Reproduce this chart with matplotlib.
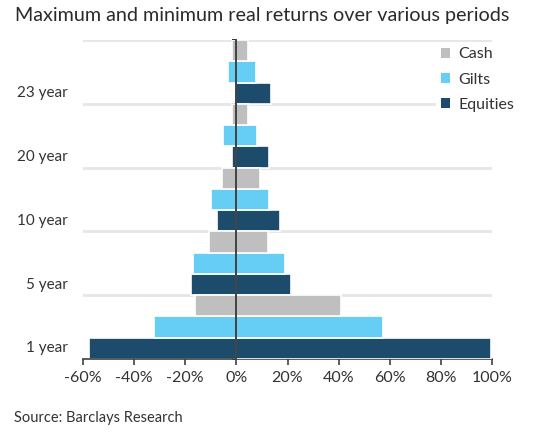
import matplotlib
matplotlib.use("Agg")
import matplotlib.pyplot as plt
import matplotlib.transforms as mtransforms
from matplotlib.patches import Patch
import numpy as np

plt.rcParams['font.family'] = ['Lato', 'DejaVu Sans']

periods = ["1 year", "5 year", "10 year", "20 year", "23 year"]
series = ["Equities", "Gilts", "Cash"]
colors = {"Cash": "#BFBFBF", "Gilts": "#66CEF5", "Equities": "#1C4B6B"}

max_vals = {
    "Equities": [99.8, 21.3, 17.2, 12.9, 13.5],
    "Gilts":    [57.5, 19.0, 12.8, 8.0, 7.6],
    "Cash":     [40.8, 12.3, 9.1, 4.4, 4.4],
}
min_vals = {
    "Equities": [-57.7, -17.9, -7.6, -1.7, 1.0],
    "Gilts":    [-32.1, -16.9, -10.1, -5.1, -3.3],
    "Cash":     [-16.1, -10.7, -5.6, -1.9, -1.7],
}
xticks = [-60, -40, -20, 0, 20, 40, 60, 80, 100]

fig = plt.figure(figsize=(5.5, 4.37), dpi=100)
ax = fig.add_axes([83/550, 1-359/437, (492-83)/550, (359-40)/437])

n = len(periods)
base = np.arange(n) * 3
for j, s in enumerate(series):
    pos = base + j
    ax.barh(pos, min_vals[s], height=1.0, color=colors[s], edgecolor="white",
            linewidth=1.2, zorder=2)
for j, s in enumerate(series):
    pos = base + j
    ax.barh(pos, max_vals[s], height=1.0, color=colors[s], edgecolor="white",
            linewidth=1.2, zorder=3)

ax.set_xlim(-60, 100)
ax.set_ylim(-0.5, 3*n - 0.5)

# gridlines at group boundaries
bounds = np.arange(1, n+1) * 3 - 0.5
for b in bounds:
    ax.axhline(b, color="#E6E6E6", linewidth=2.0, zorder=1)

# zero line as left spine
for side in ["top", "right"]:
    ax.spines[side].set_visible(False)
ax.spines["left"].set_position(("data", 0))
ax.spines["left"].set_color("#404040")
ax.spines["left"].set_linewidth(1.4)
ax.spines["left"].set_zorder(5)
ax.spines["bottom"].set_color("#404040")
ax.spines["bottom"].set_linewidth(1.2)

ax.set_yticks(np.concatenate([[-0.5], bounds]))
ax.set_yticklabels([])
ax.tick_params(axis="y", direction="out", length=3, width=1.4, color="#303030")

ax.set_xticks(xticks)
ax.set_xticklabels([f"{v}%" for v in xticks], fontsize=11.5, color="#333333")
ax.tick_params(axis="x", direction="out", length=4, width=1.2, color="#404040", pad=5)

trans = mtransforms.blended_transform_factory(fig.transFigure, ax.transData)
for p, lab in zip(base, periods):
    ax.text(68/550, p, lab, transform=trans, ha="right", va="center",
            fontsize=11, color="#333333")

handles = [Patch(facecolor=colors[s], edgecolor="none") for s in ["Cash", "Gilts", "Equities"]]
leg = ax.legend(handles, ["Cash", "Gilts", "Equities"], loc="upper right",
                bbox_to_anchor=(1.078, 1.007), frameon=True, fontsize=11.5,
                handlelength=0.6, handleheight=0.6, handletextpad=0.5,
                labelspacing=0.7, borderpad=0.3, borderaxespad=0.3)
leg.get_frame().set_facecolor("white")
leg.get_frame().set_edgecolor("none")
leg.get_frame().set_alpha(1.0)
leg.set_zorder(6)
for t in leg.get_texts():
    t.set_color("#333333")

fig.text(15/550, 1-15/437, "Maximum and minimum real returns over various periods",
         fontsize=14.2, color="#2A2A2A", ha="left", va="center")
fig.text(14/550, 1-418/437, "Source: Barclays Research", fontsize=10.5,
         color="#333333", ha="left", va="center")

fig.savefig("out.png", dpi=100, facecolor="white")
